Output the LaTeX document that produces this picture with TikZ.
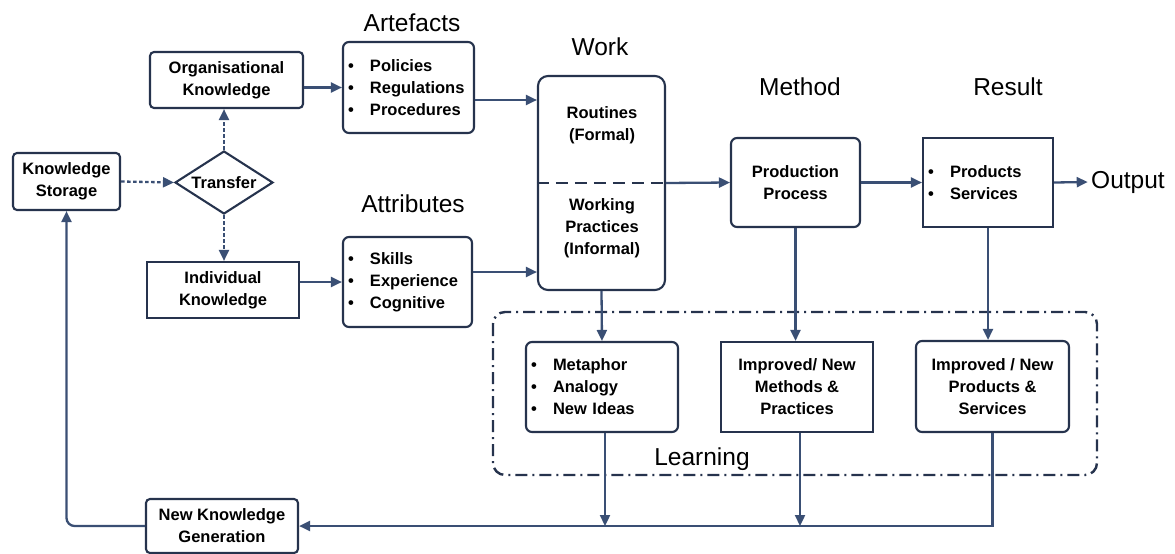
\documentclass[tikz,border=0pt]{standalone}
\usepackage{fontspec}
\setmainfont{Liberation Sans}
\usetikzlibrary{shapes.geometric, arrows.meta}
\definecolor{boxline}{HTML}{26334D}
\definecolor{flow}{HTML}{3A4F74}
\newcommand{\itm}[1]{\makebox[22pt][l]{\textbullet}#1}

\begin{document}
\begin{tikzpicture}[x=1pt, y=-1pt, >={Triangle[length=11pt,width=10pt]},
    box/.style={draw=boxline, line width=2.1pt, fill=white, align=center, inner sep=3pt,
                font=\fontsize{16.5}{22}\selectfont\bfseries},
    lbox/.style={box, align=left, text width=#1, inner xsep=5pt},
    head/.style={font=\fontsize{24.5}{28}\selectfont},
    link/.style={->, draw=flow, line width=2.3pt},
    hint/.style={link, dash pattern=on 3.5pt off 2.5pt}]
    \useasboundingbox (0,0) rectangle (1175,554);
    % learning zone
    \draw[boxline, line width=2.4pt, rounded corners=12pt,
          dash pattern=on 12pt off 5pt on 2pt off 5pt] (493,312) rectangle (1097,475);
    \node[head] (learnhd) at (702,459) {Learning};
    % knowledge side
    \node[box, rounded corners=4pt, minimum width=107pt, minimum height=57pt] (storage) at (66.5,181.5) {Knowledge\\Storage};
    \node[box, diamond, aspect=1.55, inner sep=0pt, minimum width=98pt, minimum height=63pt] (transfer) at (224,182.5) {Transfer};
    \node[box, rounded corners=4pt, minimum width=153pt, minimum height=56pt] (orgk) at (226.5,80) {Organisational\\Knowledge};
    \node[box, minimum width=152pt, minimum height=56pt] (indk) at (223,290) {Individual\\Knowledge};
    \node[box, rounded corners=4pt, minimum width=152pt, minimum height=54pt] (newk) at (222,526) {New Knowledge\\Generation};
    % artefacts and attributes
    \node[head] (artefhd) at (412,23) {Artefacts};
    \node[lbox=121pt, rounded corners=6pt, minimum height=91pt] (artef) at (408.5,87.5) {\itm{Policies}\\\itm{Regulations}\\\itm{Procedures}};
    \node[head] (attribhd) at (413,204) {Attributes};
    \node[lbox=119pt, rounded corners=6pt, minimum height=90pt] (attrib) at (407.5,282) {\itm{Skills}\\\itm{Experience}\\\itm{Cognitive}};
    % work, method, result
    \node[head] (workhd) at (600,47) {Work};
    \node[box, rounded corners=10pt, minimum width=127pt, minimum height=214pt] (work) at (601.5,183) {};
    \node[font=\fontsize{16.5}{22}\selectfont\bfseries, align=center] (formal) at (602,125) {Routines\\(Formal)};
    \node[font=\fontsize{16.5}{22}\selectfont\bfseries, align=center] (informal) at (602,228) {Working\\Practices\\(Informal)};
    \node[head] (methodhd) at (800,87) {Method};
    \node[box, rounded corners=6pt, minimum width=129pt, minimum height=89pt] (prod) at (795.5,182.5) {Production\\Process};
    \node[head] (resulthd) at (1008,87) {Result};
    \node[lbox=120pt, minimum height=89pt] (result) at (988,182.5) {\itm{Products}\\\itm{Services}};
    \node[head] (output) at (1128,182) {Output};
    % learning boxes
    \node[lbox=142pt, rounded corners=6pt, minimum height=90pt] (meta) at (602,387) {\itm{Metaphor}\\\itm{Analogy}\\\itm{New Ideas}};
    \node[box, minimum width=152pt, minimum height=90pt] (methods) at (797,387) {Improved/ New\\Methods \&\\Practices};
    \node[box, rounded corners=6pt, minimum width=153pt, minimum height=91pt] (prods) at (992.5,386.5) {Improved / New\\Products \&\\Services};
    % connectors
    \draw[hint] (storage.east) -- (transfer.west);
    \draw[hint] (transfer.north) -- (transfer.north |- orgk.south);
    \draw[hint] (transfer.south) -- (transfer.south |- indk.north);
    \draw[link] (orgk.east |- artef.west) -- (artef.west);
    \draw[link] (indk.east |- attrib.west) -- (attrib.west);
    \draw[link] ([yshift=-12.5pt]artef.east) -- ([yshift=-12.5pt]artef.east -| work.west);
    \draw[link] ([yshift=10pt]attrib.east) -- ([yshift=10pt]attrib.east -| work.west);
    \draw[boxline, line width=2.1pt, dash pattern=on 12pt off 7pt] (work.west) -- (work.east);
    \draw[link] (work.east) -- (prod.west);
    \draw[link] (prod.east) -- (result.west);
    \draw[link] (result.east) -- (output.west);
    \draw[link] (work.south) -- (meta.north);
    \draw[link] (prod.south) -- (prod.south |- methods.north);
    \draw[link] (result.south) -- (result.south |- prods.north);
    \coordinate (loopend) at (prods.south |- newk.east);
    \draw[link] (prods.south) -- (loopend) -- (newk.east);
    \draw[link] ([xshift=3pt]meta.south) -- ([xshift=3pt]meta.south |- newk.east);
    \draw[link] ([xshift=3pt]methods.south) -- ([xshift=3pt]methods.south |- newk.east);
    \draw[link, rounded corners=8pt] (newk.west) -| (storage.south);
\end{tikzpicture}
\end{document}
